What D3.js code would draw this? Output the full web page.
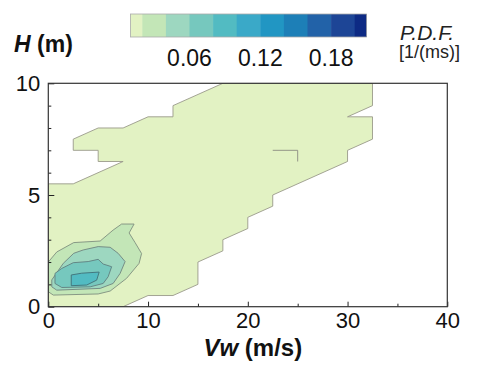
<!DOCTYPE html>
<html>
<head>
<meta charset="utf-8">
<script src="https://cdn.jsdelivr.net/npm/d3@7"></script>
<style>
  body { margin: 0; background: #fff; }
  svg { font-family: "Liberation Sans", Arial, sans-serif; }
</style>
</head>
<body>
<svg width="478" height="365"></svg>
<script>
// contour levels of the joint P.D.F. (1/(ms)) and their flood colours
const levelBreaks = [0.01, 0.02, 0.04, 0.06, 0.08, 0.10, 0.12, 0.14, 0.16, 0.18, 0.20, 0.21];
const levelColors = ["#e2f2c3", "#c3e6b7", "#9dd7c0", "#76c8be", "#52bbc2", "#3aa9c8",
                     "#2196c3", "#1d7fb7", "#2262a8", "#1d4596", "#0d2a84"];
const colorbarTicks = [0.06, 0.12, 0.18];

// isoline rings, as [Vw (m/s), H (m)]
const ringLevel001 = [[0, 0], [7.5, 0], [10, 0.5], [12.5, 0.5], [15, 1], [15, 2], [17.5, 2.5],
  [17.5, 3], [20, 3.5], [20, 4], [22.5, 4.5], [22.5, 5], [30, 6.5], [30, 7], [32.5, 7.5],
  [32.5, 8.5], [30, 8.5], [32.5, 9], [32.5, 10], [17.5, 10], [12.5, 9], [12.5, 8.5],
  [10, 8.5], [7.5, 8], [5, 8], [2.5, 7.5], [2.5, 7], [5, 7], [5, 6.5], [7.5, 6.5],
  [2.5, 5.5], [0, 5.5]];
const ringLevel002 = [[0, 2.0], [0.85, 2.45], [2.55, 2.87], [5.2, 2.94], [6.5, 3.43],
  [7.35, 3.7], [8.6, 3.7], [8.1, 3.3], [8.7, 2.87], [9.35, 2.38], [9.1, 1.94],
  [7.85, 1.27], [6.2, 0.7], [5.0, 0.57], [0.5, 0.52], [0, 0.67]];
const ringLevel004 = [[0.35, 1.2], [1.5, 1.94], [2.55, 2.39], [3.5, 2.54], [5.0, 2.69],
  [6.2, 2.66], [7.0, 2.39], [7.7, 2.02], [7.2, 1.49], [6.5, 1.04], [5.2, 0.82],
  [0.85, 0.74], [0.35, 0.89]];
const ringLevel006 = [[0.67, 1.49], [1.34, 1.71], [2.5, 1.97], [4.0, 2.02], [5.0, 2.12],
  [5.5, 1.91], [6.35, 1.79], [6.0, 1.34], [5.5, 1.04], [4.2, 0.89], [1.35, 0.86],
  [0.67, 1.04]];
const ringLevel008 = [[2.3, 1.42], [3.35, 1.5], [5.1, 1.55], [4.85, 1.19], [3.85, 0.97],
  [2.3, 0.94]];
// stray isoline piece that Tecplot left inside the lowest band
const strayLine = [[22.5, 7], [25, 7], [25, 6.5]];

const xTicks = [0, 10, 20, 30, 40];
const xMinorTicks = [5, 15, 25, 35];
const yTicks = [0, 5, 10];
const yMinorTicks = [1, 2, 3, 4, 6, 7, 8, 9];

const svg = d3.select("svg");
const margin = { top: 83.3, right: 30.7, bottom: 58.3, left: 48.3 };
const width = +svg.attr("width");
const height = +svg.attr("height");

const x = d3.scaleLinear().domain([0, 40]).range([margin.left, width - margin.right]);
const y = d3.scaleLinear().domain([0, 10]).range([height - margin.bottom, margin.top]);

svg.append("clipPath").attr("id", "plotClip")
  .append("rect")
  .attr("x", x(0)).attr("y", y(10))
  .attr("width", x(40) - x(0)).attr("height", y(0) - y(10));

const line = d3.line().x((d) => x(d[0])).y((d) => y(d[1]));

const bands = [
  { ring: ringLevel001, color: levelColors[0], stroke: "#9a9a8a" },
  { ring: ringLevel002, color: levelColors[1], stroke: "#7f8f7f" },
  { ring: ringLevel004, color: levelColors[2], stroke: "#6f857f" },
  { ring: ringLevel006, color: levelColors[3], stroke: "#5f7f7f" },
  { ring: ringLevel008, color: levelColors[4], stroke: "#3f6f77" },
];

const plot = svg.append("g").attr("clip-path", "url(#plotClip)");
plot.selectAll("path.band")
  .data(bands)
  .enter()
  .append("path")
  .attr("class", "band")
  .attr("d", (d) => line(d.ring) + "Z")
  .attr("fill", (d) => d.color)
  .attr("stroke", (d) => d.stroke)
  .attr("stroke-width", 0.9)
  .attr("stroke-linejoin", "round");

plot.append("path")
  .attr("d", line(strayLine))
  .attr("fill", "none")
  .attr("stroke", "#8a8a80")
  .attr("stroke-width", 0.9);

// axes, ticks pointing inwards
const xAxis = d3.axisBottom(x).tickValues(xTicks).tickSizeInner(-5).tickSizeOuter(0).tickPadding(5.5);
svg.append("g").attr("transform", `translate(0, ${y(0)})`).call(xAxis);
svg.append("g").attr("transform", `translate(0, ${y(0)})`)
  .call(d3.axisBottom(x).tickValues(xMinorTicks).tickSize(-3).tickFormat(""))
  .select(".domain").remove();

const yAxis = d3.axisLeft(y).tickValues(yTicks).tickSizeInner(-6).tickSizeOuter(0).tickPadding(8);
svg.append("g").attr("transform", `translate(${x(0)}, 0)`).call(yAxis);
svg.append("g").attr("transform", `translate(${x(0)}, 0)`)
  .call(d3.axisLeft(y).tickValues(yMinorTicks).tickSize(-3).tickFormat(""))
  .select(".domain").remove();

svg.selectAll(".domain").remove();
svg.selectAll(".tick line").attr("stroke", "#222").attr("stroke-width", 1);
svg.selectAll(".tick text").attr("font-size", 22).attr("fill", "#111")
  .attr("font-family", "Liberation Sans, Arial, sans-serif");

svg.append("rect")
  .attr("x", x(0)).attr("y", y(10))
  .attr("width", x(40) - x(0)).attr("height", y(0) - y(10))
  .attr("fill", "none").attr("stroke", "#333").attr("stroke-width", 1.2);

// axis titles
const xTitle = svg.append("text")
  .attr("x", (x(0) + x(40)) / 2 + 5).attr("y", 356)
  .attr("text-anchor", "middle").attr("font-size", 24).attr("font-weight", "bold").attr("fill", "#111");
xTitle.append("tspan").attr("font-style", "italic").text("Vw");
xTitle.append("tspan").text(" (m/s)");

const yTitle = svg.append("text")
  .attr("x", 14).attr("y", 52)
  .attr("font-size", 23).attr("font-weight", "bold").attr("fill", "#111");
yTitle.append("tspan").attr("font-style", "italic").text("H");
yTitle.append("tspan").text(" (m)");

// colour bar
const cb = d3.scaleLinear().domain([levelBreaks[0], levelBreaks[levelBreaks.length - 1]]).range([130.5, 366.5]);
const cbTop = 14, cbHeight = 23;
svg.append("g").selectAll("rect")
  .data(levelColors)
  .enter()
  .append("rect")
  .attr("x", (d, i) => cb(levelBreaks[i]))
  .attr("y", cbTop)
  .attr("width", (d, i) => cb(levelBreaks[i + 1]) - cb(levelBreaks[i]) + 0.5)
  .attr("height", cbHeight)
  .attr("fill", (d) => d);
svg.append("rect")
  .attr("x", cb.range()[0]).attr("y", cbTop)
  .attr("width", cb.range()[1] - cb.range()[0]).attr("height", cbHeight)
  .attr("fill", "none").attr("stroke", "#aaa").attr("stroke-width", 0.8);
svg.append("g").selectAll("text")
  .data(colorbarTicks)
  .enter()
  .append("text")
  .attr("x", (d) => cb(d))
  .attr("y", 66)
  .attr("text-anchor", "middle")
  .attr("font-size", 23)
  .attr("fill", "#111")
  .text((d) => d.toFixed(2));

svg.append("text").attr("x", 400).attr("y", 40)
  .attr("font-size", 21).attr("font-style", "italic").attr("fill", "#222").text("P.D.F.");
svg.append("text").attr("x", 399).attr("y", 58)
  .attr("font-size", 18).attr("fill", "#222").text("[1/(ms)]");
</script>
</body>
</html>
